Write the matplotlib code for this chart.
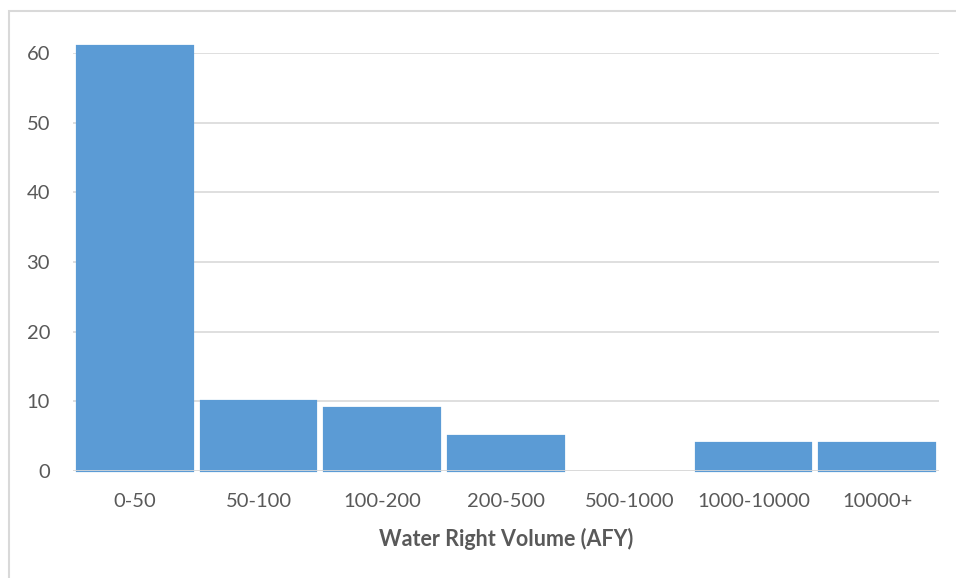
import numpy as np
import matplotlib.pyplot as plt
from matplotlib.patches import Rectangle

# Histogram of water right volumes
categories = ['0-50', '50-100', '100-200', '200-500', '500-1000', '1000-10000', '10000+']
counts = [61, 10, 9, 5, 0, 4, 4]
y_ticks = [0, 10, 20, 30, 40, 50, 60]

bar_color = '#5B9BD5'
grid_color = '#D9D9D9'
text_color = '#595959'

plt.rcParams['font.family'] = ['Lato', 'DejaVu Sans']

fig = plt.figure(figsize=(9.56, 5.78), dpi=100)
ax = fig.add_axes([73 / 956, 107.3 / 578, (939 - 73) / 956, (470.7 - 53.3) / 578])

x = np.arange(len(categories))
edges = [bar_color if c > 0 else 'none' for c in counts]
ax.bar(x, counts, width=0.935, color=bar_color, edgecolor=edges,
       linewidth=1.6, zorder=2, clip_on=False)
ax.axhline(0, color=grid_color, linewidth=1.2, zorder=3)

ax.set_xlim(-0.5, len(categories) - 0.5)
ax.set_ylim(0, 60)
ax.set_yticks(y_ticks)
ax.set_xticks(x)
ax.set_xticklabels(categories)
ax.grid(axis='y', color=grid_color, linewidth=1.2, zorder=0)
ax.set_axisbelow(True)

for s in ax.spines.values():
    s.set_visible(False)
ax.tick_params(axis='both', length=0, labelsize=14.5, labelcolor=text_color)
ax.tick_params(axis='y', pad=16.5)
ax.tick_params(axis='x', pad=16)

ax.set_xlabel('Water Right Volume (AFY)', fontsize=15.5, fontweight='bold',
              color=text_color, labelpad=13)

# chart frame, only left and top edges are visible in the crop
fig.patches.append(Rectangle((9 / 956, -0.1), 1.2, (578 - 11) / 578 + 0.1,
                             transform=fig.transFigure, fill=False,
                             edgecolor=grid_color, linewidth=1.5))

fig.savefig('out.png', dpi=100, facecolor='white')
